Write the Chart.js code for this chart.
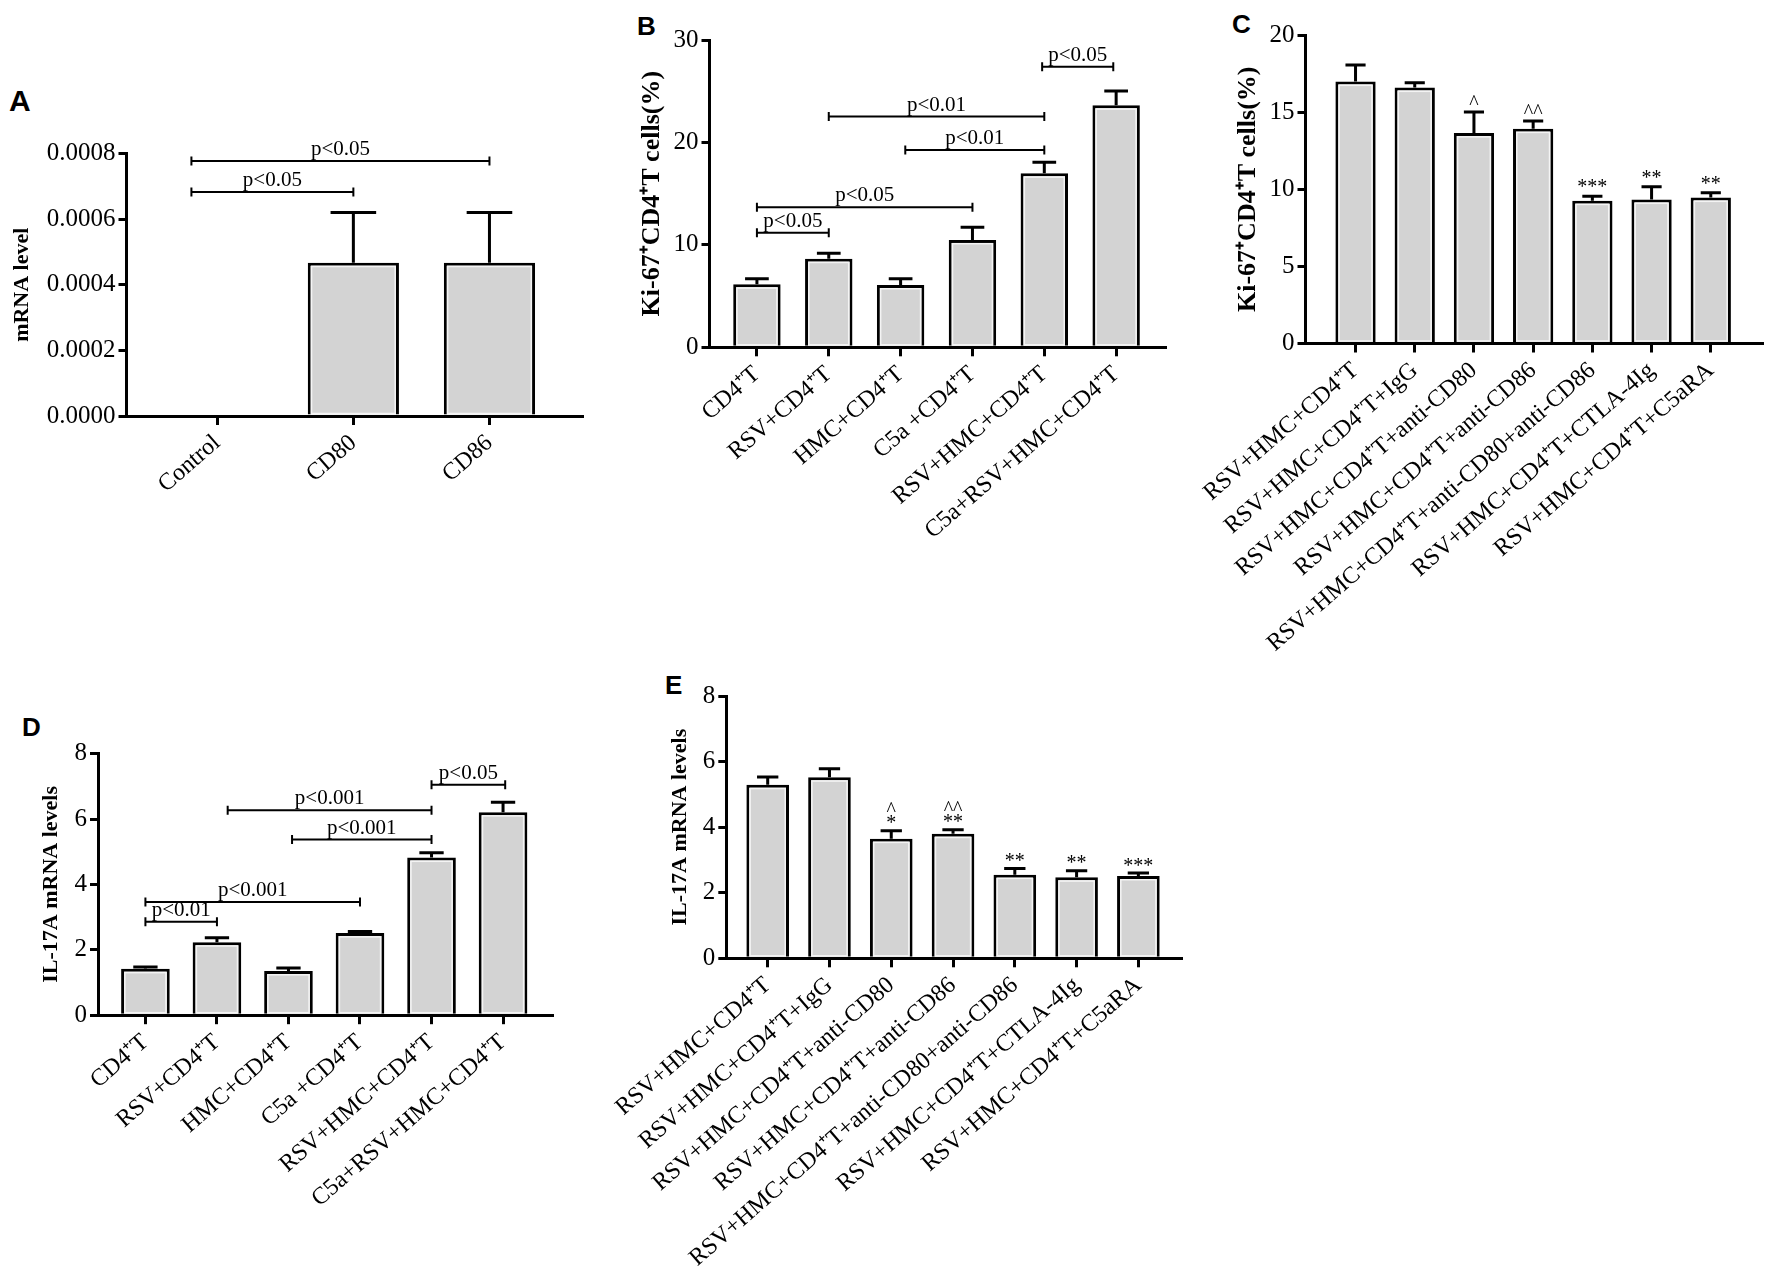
<!DOCTYPE html>
<html><head><meta charset="utf-8">
<script src="https://cdn.jsdelivr.net/npm/chart.js@4.4.1/dist/chart.umd.min.js"></script>
<style>
html,body{margin:0;padding:0;background:#fff;}
body{width:1772px;height:1266px;position:relative;overflow:hidden;}
canvas{position:absolute;}
.lbl{position:absolute;font-family:'Liberation Sans',Arial,sans-serif;font-weight:bold;line-height:1;color:#000;}
</style></head><body>
<div class="lbl" style="left:9px;top:86px;font-size:30px">A</div>
<div class="lbl" style="left:637px;top:13px;font-size:26px">B</div>
<div class="lbl" style="left:1232px;top:11px;font-size:26px">C</div>
<div class="lbl" style="left:22px;top:714px;font-size:26px">D</div>
<div class="lbl" style="left:665px;top:672px;font-size:26px">E</div>
<canvas id="cA"></canvas>
<canvas id="cB"></canvas>
<canvas id="cC"></canvas>
<canvas id="cD"></canvas>
<canvas id="cE"></canvas>
<script>
// ---------- data ----------
const catA = ['Control', 'CD80', 'CD86'];
const valA = [0, 0.000467, 0.000467];
const errA = [0, 0.00062, 0.00062];
const yTicksA = [0, 0.0002, 0.0004, 0.0006, 0.0008];
const brkA = [[-0.19, 1, 0.000683, 'p<0.05'], [-0.19, 2, 0.000777, 'p<0.05']];

const catB = ['CD4\u207AT', 'RSV+CD4\u207AT', 'HMC+CD4\u207AT', 'C5a +CD4\u207AT', 'RSV+HMC+CD4\u207AT', 'C5a+RSV+HMC+CD4\u207AT'];
const valB = [6.15, 8.65, 6.08, 10.48, 16.98, 23.62];
const errB = [6.7, 9.18, 6.7, 11.71, 18.06, 25.02];
const yTicksB = [0, 10, 20, 30];
const brkB = [[0, 1, 11.19, 'p<0.05'], [0, 3, 13.67, 'p<0.05'], [2.065, 4, 19.26, 'p<0.01'], [1, 4, 22.52, 'p<0.01'], [3.97, 4.96, 27.4, 'p<0.05']];

const catC = ['RSV+HMC+CD4\u207AT', 'RSV+HMC+CD4\u207AT+IgG', 'RSV+HMC+CD4\u207AT+anti-CD80', 'RSV+HMC+CD4\u207AT+anti-CD86', 'RSV+HMC+CD4\u207AT+anti-CD80+anti-CD86', 'RSV+HMC+CD4\u207AT+CTLA-4Ig', 'RSV+HMC+CD4\u207AT+C5aRA'];
const valC = [16.98, 16.59, 13.64, 13.93, 9.26, 9.33, 9.46];
const errC = [18.05, 16.9, 15.01, 14.43, 9.54, 10.17, 9.78];
const yTicksC = [0, 5, 10, 15, 20];
const markC = ['', '', '^', '^^', '***', '**', '**'];

const catD = ['CD4\u207AT', 'RSV+CD4\u207AT', 'HMC+CD4\u207AT', 'C5a +CD4\u207AT', 'RSV+HMC+CD4\u207AT', 'C5a+RSV+HMC+CD4\u207AT'];
const valD = [1.417, 2.23, 1.35, 2.51, 4.82, 6.21];
const errD = [1.474, 2.37, 1.44, 2.56, 4.97, 6.51];
const yTicksD = [0, 2, 4, 6, 8];
const brkD = [[0, 1, 2.86, 'p<0.01'], [0, 3, 3.46, 'p<0.001'], [2.05, 4, 5.37, 'p<0.001'], [1.15, 4, 6.27, 'p<0.001'], [4, 5.03, 7.05, 'p<0.05']];

const catE = ['RSV+HMC+CD4\u207AT', 'RSV+HMC+CD4\u207AT+IgG', 'RSV+HMC+CD4\u207AT+anti-CD80', 'RSV+HMC+CD4\u207AT+anti-CD86', 'RSV+HMC+CD4\u207AT+anti-CD80+anti-CD86', 'RSV+HMC+CD4\u207AT+CTLA-4Ig', 'RSV+HMC+CD4\u207AT+C5aRA'];
const valE = [5.29, 5.52, 3.65, 3.80, 2.55, 2.47, 2.51];
const errE = [5.53, 5.78, 3.89, 3.92, 2.74, 2.67, 2.60];
const yTicksE = [0, 2, 4, 6, 8];
const markE = ['', '', '*', '**', '**', '**', '***'];
const markE2 = ['', '', '^', '^^', '', '', ''];

// ---------- drawing ----------
const SERIF = "'Liberation Serif','Times New Roman',serif";

function panel(id, o) {
  const cv = document.getElementById(id);
  const [bx, by, bw, bh] = o.box;
  cv.width = bw; cv.height = bh;
  cv.style.left = bx + 'px'; cv.style.top = by + 'px';
  cv.style.width = bw + 'px'; cv.style.height = bh + 'px';
  const [L, T, R, B] = o.area;
  const n = o.cats.length;
  const gridOpts = {drawOnChartArea: false, drawTicks: true, tickLength: 8, tickWidth: 3, lineWidth: 3, color: '#000', tickColor: '#000', offset: false};
  const overlay = {
    id: 'ov' + id,
    afterDatasetsDraw(chart) {
      const ctx = chart.ctx;
      const xs = chart.scales.x, ys = chart.scales.y;
      const meta = chart.getDatasetMeta(0);
      const y0 = ys.getPixelForValue(0);
      ctx.save();
      // light inner edge of each bar
      ctx.strokeStyle = '#f4f4f4';
      ctx.lineWidth = 1.5;
      meta.data.forEach(el => {
        if (y0 - el.y < 10) return;
        const l = el.x - el.width / 2 + 3.75, r = el.x + el.width / 2 - 3.75;
        ctx.strokeRect(l, el.y + 3.75, r - l, (y0 - 2.5) - (el.y + 3.75));
      });
      ctx.strokeStyle = '#000';
      ctx.fillStyle = '#000';
      // error bars (upper)
      ctx.lineWidth = 3;
      meta.data.forEach((el, i) => {
        const e = o.errs[i];
        if (!(e > o.vals[i])) return;
        const yE = ys.getPixelForValue(e);
        const half = el.width * 0.25;
        ctx.beginPath();
        ctx.moveTo(el.x, el.y); ctx.lineTo(el.x, yE);
        ctx.moveTo(el.x - half, yE); ctx.lineTo(el.x + half, yE);
        ctx.stroke();
      });
      // significance brackets
      (o.brk || []).forEach(([a, b, v, txt]) => {
        const x1 = xs.getPixelForValue(a), x2 = xs.getPixelForValue(b), y = ys.getPixelForValue(v);
        ctx.lineWidth = 2;
        ctx.beginPath();
        ctx.moveTo(x1, y); ctx.lineTo(x2, y);
        ctx.moveTo(x1, y - 4.5); ctx.lineTo(x1, y + 4.5);
        ctx.moveTo(x2, y - 4.5); ctx.lineTo(x2, y + 4.5);
        ctx.stroke();
        ctx.font = '21px ' + SERIF;
        ctx.textAlign = 'center'; ctx.textBaseline = 'alphabetic';
        ctx.fillText(txt, (x1 + x2) / 2, y - 6);
      });
      // star / caret marks
      const marks = (list, lift) => {
        (list || []).forEach((m, i) => {
          if (!m) return;
          const el = meta.data[i];
          const yE = ys.getPixelForValue(o.errs[i]);
          ctx.font = '20px ' + SERIF;
          ctx.textAlign = 'center'; ctx.textBaseline = 'alphabetic';
          ctx.fillText(m, el.x, yE - lift);
        });
      };
      marks(o.mark, o.lift1);
      marks(o.mark2, o.lift2);
      ctx.restore();
    }
  };
  new Chart(cv, {
    type: 'bar',
    data: {datasets: [{
      data: o.vals.map((v, i) => ({x: i, y: v})),
      backgroundColor: '#d3d3d3', borderColor: '#000', borderWidth: 3, borderSkipped: 'start',
      barPercentage: o.bp, categoryPercentage: 1
    }]},
    options: {
      responsive: false, animation: false, devicePixelRatio: 1,
      layout: {padding: {left: 0, top: T - by, right: bx + bw - R, bottom: 0}},
      plugins: {legend: {display: false}, tooltip: {enabled: false}},
      scales: {
        x: {
          type: 'linear', min: -o.off[0], max: n - 1 + o.off[1], offset: false,
          afterBuildTicks: s => { s.ticks = o.cats.map((_, i) => ({value: i})); },
          afterFit: s => { s.height = by + bh - B; s.paddingLeft = 0; s.paddingRight = 0; },
          ticks: {autoSkip: false, maxRotation: 41, minRotation: 41, padding: 4, color: '#000',
                  font: {family: SERIF, size: 24}, callback: v => o.cats[v]},
          grid: Object.assign({}, gridOpts, {tickLength: 9}),
          border: {display: true, color: '#000', width: 3}
        },
        y: {
          min: o.yTicks[0], max: o.yTicks[o.yTicks.length - 1],
          afterBuildTicks: s => { s.ticks = o.yTicks.map(v => ({value: v})); },
          afterFit: s => { s.width = L - bx; s.paddingTop = 0; s.paddingBottom = 0; },
          ticks: {padding: 3, color: '#000', font: {family: SERIF, size: 25}, callback: o.yfmt},
          grid: gridOpts,
          border: {display: true, color: '#000', width: 3},
          title: {display: true, text: o.title, color: '#000',
                  font: {family: SERIF, size: o.tfs, weight: 'bold'},
                  padding: {top: o.titleX - bx - o.tfs * 0.6, bottom: 0}}
        }
      }
    },
    plugins: [overlay]
  });
}

const plainFmt = v => String(v);
panel('cA', {box: [0, 120, 600, 460], area: [126.5, 153.5, 582, 416], off: [0.667, 0.68], bp: 0.67,
  cats: catA, vals: valA, errs: errA, yTicks: yTicksA, brk: brkA, yfmt: v => v.toFixed(4),
  title: 'mRNA level', tfs: 22, titleX: 22});
panel('cB', {box: [620, 0, 560, 620], area: [709.5, 40, 1165, 347.3], off: [0.66, 0.68], bp: 0.66,
  cats: catB, vals: valB, errs: errB, yTicks: yTicksB, brk: brkB, yfmt: plainFmt,
  title: 'Ki-67\u207ACD4\u207AT cells(%)', tfs: 26, titleX: 652});
panel('cC', {box: [1180, 0, 592, 700], area: [1305.5, 35, 1762, 343.5], off: [0.845, 0.865], bp: 0.68,
  cats: catC, vals: valC, errs: errC, yTicks: yTicksC, mark: markC, lift1: 3, yfmt: plainFmt,
  title: 'Ki-67\u207ACD4\u207AT cells(%)', tfs: 26, titleX: 1248});
panel('cD', {box: [0, 700, 580, 566], area: [98, 753.6, 552.4, 1015.2], off: [0.663, 0.69], bp: 0.68,
  cats: catD, vals: valD, errs: errD, yTicks: yTicksD, brk: brkD, yfmt: plainFmt,
  title: 'IL-17A mRNA levels', tfs: 22, titleX: 51});
panel('cE', {box: [600, 660, 600, 606], area: [726.3, 696, 1181, 958.3], off: [0.67, 0.69], bp: 0.69,
  cats: catE, vals: valE, errs: errE, yTicks: yTicksE, mark: markE, mark2: markE2, lift1: 1.5, lift2: 15, yfmt: plainFmt,
  title: 'IL-17A mRNA levels', tfs: 22, titleX: 680});
</script>
</body></html>
